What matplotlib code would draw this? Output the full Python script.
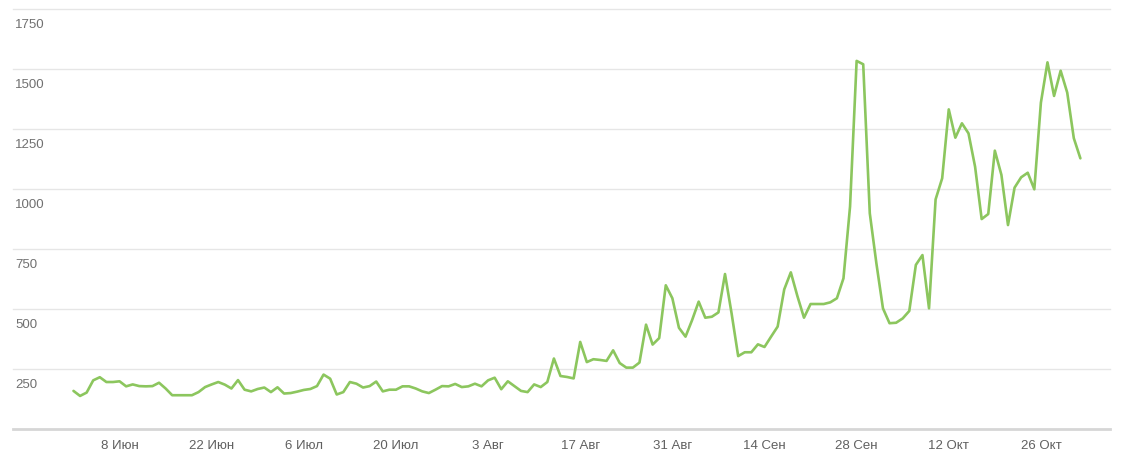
import matplotlib
matplotlib.use('Agg')
import matplotlib.pyplot as plt
import pandas as pd

plt.rcParams['font.family'] = ['Liberation Sans', 'DejaVu Sans']

# Daily values, 1 Jun .. 1 Nov
values = [
    160, 139, 153, 204, 217, 197, 197, 200, 179, 187,
    180, 179, 180, 194, 170, 142, 142, 142, 142, 155,
    176, 187, 197, 186, 170, 205, 165, 158, 168, 174,
    155, 175, 149, 151, 157, 164, 168, 180, 228, 211,
    145, 155, 197, 190, 174, 180, 199, 158, 165, 165,
    179, 179, 170, 158, 151, 165, 180, 179, 189, 176,
    179, 190, 179, 204, 215, 167, 200, 180, 160, 155,
    187, 176, 197, 295, 222, 218, 212, 364, 280, 292,
    289, 285, 329, 276, 257, 257, 278, 436, 353, 380,
    600, 546, 423, 386, 455, 532, 465, 469, 487, 647,
    483, 305, 321, 321, 354, 343, 386, 428, 583, 654,
    555, 465, 522, 522, 522, 529, 546, 629, 928, 1535,
    1521, 900, 692, 504, 442, 444, 462, 493, 685, 726,
    504, 958, 1046, 1333, 1215, 1275, 1233, 1094, 876, 897,
    1161, 1060, 851, 1007, 1050, 1069, 1000, 1361, 1529, 1389,
    1494, 1403, 1213, 1129,
]
start_date = '2020-06-01'

tick_dates = ['2020-06-08', '2020-06-22', '2020-07-06', '2020-07-20', '2020-08-03',
              '2020-08-17', '2020-08-31', '2020-09-14', '2020-09-28', '2020-10-12',
              '2020-10-26']
tick_labels = ['8 Июн', '22 Июн', '6 Июл', '20 Июл', '3 Авг', '17 Авг', '31 Авг',
               '14 Сен', '28 Сен', '12 Окт', '26 Окт']
y_ticks = [250, 500, 750, 1000, 1250, 1500, 1750]

W, H = 1122, 470
fig = plt.figure(figsize=(W / 100, H / 100), dpi=100)
ax = fig.add_axes([13 / W, 1 - 429.3 / H, 1097 / W, 420 / H])

dates = pd.date_range(start_date, periods=len(values), freq='D')
ax.plot(dates, values, color='#8cc65e', lw=1.9, solid_joinstyle='round',
        solid_capstyle='round', zorder=3)

ax.set_ylim(0, 1750)
ax.set_xlim(dates[0] - pd.Timedelta(days=9.19), dates[0] + pd.Timedelta(days=157.5))

for v in y_ticks:
    ax.axhline(v, color='#e6e6e6', lw=1, zorder=1, clip_on=False)
    ax.annotate(str(v), xy=(0, v), xycoords=ax.get_yaxis_transform(),
                xytext=(1.5, -13.6), textcoords='offset points',
                ha='left', va='baseline', fontsize=9.5, color='#707070')
ax.axhline(0, color='#d6d6d6', lw=2, zorder=1, clip_on=False)

for s in ax.spines.values():
    s.set_visible(False)
ax.set_yticks([])
ax.set_xticks(pd.to_datetime(tick_dates))
ax.set_xticklabels(tick_labels)
ax.tick_params(axis='x', length=0, pad=7.5, labelsize=9.5, labelcolor='#606060')

fig.savefig('out.png', dpi=100)
